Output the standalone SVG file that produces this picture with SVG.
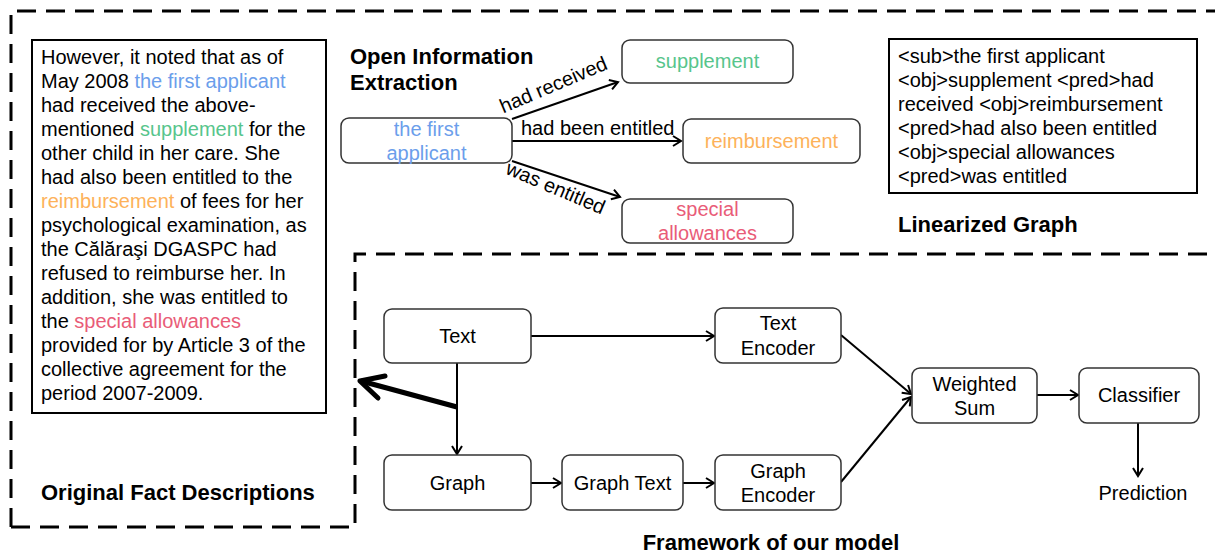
<svg xmlns="http://www.w3.org/2000/svg" width="1215" height="553" viewBox="0 0 1215 553">
<style>
text{font-family:"Liberation Sans",Arial,sans-serif;font-size:20px;fill:#000}
.b{font-weight:bold;font-size:22px}
.c{text-anchor:middle}
.node{fill:#fff;stroke:#333;stroke-width:1.5}
.box{fill:#fff;stroke:#000;stroke-width:2}
.dash{fill:none;stroke:#000;stroke-width:3;stroke-dasharray:19 10}
.conn{fill:none;stroke:#000;stroke-width:2}
.blue{fill:#6b9eeb}.green{fill:#57c58c}.orange{fill:#fdb25a}.pink{fill:#e95c78}
</style>
<defs>
<marker id="ah" markerUnits="userSpaceOnUse" markerWidth="14" markerHeight="14" refX="10" refY="6" orient="auto">
<path d="M2,1 L10,6 L2,11" fill="none" stroke="#000" stroke-width="2"/>
</marker>
</defs>
<rect width="1215" height="553" fill="#fff"/>
<g id="frames">
<path class="dash" d="M11,527 L11,11 L1215,11"/>
<path class="dash" d="M11,527 L355,527 L355,254 L1215,254"/>
</g>
<g id="fact-box">
<rect class="box" x="32" y="40" width="294" height="373"/>
<text x="41" y="64">However, it noted that as of</text>
<text x="41" y="88">May 2008 <tspan class="blue">the first applicant</tspan></text>
<text x="41" y="112">had received the above-</text>
<text x="41" y="136">mentioned <tspan class="green">supplement</tspan> for the</text>
<text x="41" y="160">other child in her care. She</text>
<text x="41" y="184">had also been entitled to the</text>
<text x="41" y="208"><tspan class="orange">reimbursement</tspan> of fees for her</text>
<text x="41" y="232">psychological examination, as</text>
<text x="41" y="256">the Călăraşi DGASPC had</text>
<text x="41" y="280">refused to reimburse her. In</text>
<text x="41" y="304">addition, she was entitled to</text>
<text x="41" y="328">the <tspan class="pink">special allowances</tspan></text>
<text x="41" y="352">provided for by Article 3 of the</text>
<text x="41" y="376">collective agreement for the</text>
<text x="41" y="400">period 2007-2009.</text>
</g>
<g id="titles">
<text class="b" x="350" y="64">Open Information</text>
<text class="b" x="350" y="90">Extraction</text>
<text class="b" x="898" y="232">Linearized Graph</text>
<text class="b" x="41" y="500">Original Fact Descriptions</text>
<text class="b c" x="771" y="550">Framework of our model</text>
</g>
<g id="linearized">
<rect class="box" x="889" y="39" width="308" height="154"/>
<text x="898" y="63">&lt;sub&gt;the first applicant</text>
<text x="898" y="87">&lt;obj&gt;supplement &lt;pred&gt;had</text>
<text x="898" y="111">received &lt;obj&gt;reimbursement</text>
<text x="898" y="135">&lt;pred&gt;had also been entitled</text>
<text x="898" y="159">&lt;obj&gt;special allowances</text>
<text x="898" y="183">&lt;pred&gt;was entitled</text>
</g>
<g id="connectors">
<line class="conn" x1="512" y1="119" x2="618" y2="82" marker-end="url(#ah)"/>
<line class="conn" x1="512" y1="141" x2="681" y2="141" marker-end="url(#ah)"/>
<line class="conn" x1="512" y1="161" x2="620" y2="197" marker-end="url(#ah)"/>
<line class="conn" x1="531" y1="336" x2="714" y2="336" marker-end="url(#ah)"/>
<line class="conn" x1="457" y1="363" x2="457" y2="454" marker-end="url(#ah)"/>
<line class="conn" x1="531" y1="483" x2="561" y2="483" marker-end="url(#ah)"/>
<line class="conn" x1="683" y1="483" x2="714" y2="483" marker-end="url(#ah)"/>
<line class="conn" x1="841" y1="335" x2="911" y2="394" marker-end="url(#ah)"/>
<line class="conn" x1="841" y1="482" x2="911" y2="397" marker-end="url(#ah)"/>
<line class="conn" x1="1037" y1="395" x2="1078" y2="395" marker-end="url(#ah)"/>
<line class="conn" x1="1138" y1="423" x2="1138" y2="476" marker-end="url(#ah)"/>
<path d="M457,407 L361,381" fill="none" stroke="#000" stroke-width="5"/>
<path d="M385,376 L360,381 L378,398" fill="none" stroke="#000" stroke-width="5" stroke-linejoin="round" stroke-linecap="round"/>
<text class="c" transform="translate(556,91) rotate(-23)">had received</text>
<text x="521" y="135">had been entitled</text>
<text class="c" transform="translate(553,194) rotate(23)">was entitled</text>
</g>
<g id="n-applicant">
<rect class="node" x="341" y="118" width="171" height="45" rx="8"/>
<text class="c blue" x="426.5" y="136">the first</text>
<text class="c blue" x="426.5" y="160">applicant</text>
</g>
<g id="n-supplement">
<rect class="node" x="622" y="40" width="171" height="43" rx="8"/>
<text class="c green" x="707.5" y="68">supplement</text>
</g>
<g id="n-reimbursement">
<rect class="node" x="683" y="119" width="177" height="44" rx="8"/>
<text class="c orange" x="771.5" y="148">reimbursement</text>
</g>
<g id="n-special">
<rect class="node" x="622" y="199" width="171" height="44" rx="8"/>
<text class="c pink" x="707.5" y="216">special</text>
<text class="c pink" x="707.5" y="240">allowances</text>
</g>
<g id="n-text">
<rect class="node" x="384" y="309" width="147" height="54" rx="8"/>
<text class="c" x="457.5" y="343">Text</text>
</g>
<g id="n-text-encoder">
<rect class="node" x="715" y="308" width="126" height="55" rx="8"/>
<text class="c" x="778" y="330">Text</text>
<text class="c" x="778" y="355">Encoder</text>
</g>
<g id="n-graph">
<rect class="node" x="384" y="455" width="147" height="55" rx="8"/>
<text class="c" x="457.5" y="490">Graph</text>
</g>
<g id="n-graph-text">
<rect class="node" x="562" y="455" width="121" height="55" rx="8"/>
<text class="c" x="622.5" y="490">Graph Text</text>
</g>
<g id="n-graph-encoder">
<rect class="node" x="715" y="455" width="126" height="55" rx="8"/>
<text class="c" x="778" y="478">Graph</text>
<text class="c" x="778" y="502">Encoder</text>
</g>
<g id="n-weighted-sum">
<rect class="node" x="912" y="368" width="125" height="55" rx="8"/>
<text class="c" x="974.5" y="391">Weighted</text>
<text class="c" x="974.5" y="415">Sum</text>
</g>
<g id="n-classifier">
<rect class="node" x="1079" y="368" width="120" height="55" rx="8"/>
<text class="c" x="1139" y="402">Classifier</text>
</g>
<g id="n-prediction">
<text class="c" x="1143" y="500">Prediction</text>
</g>
</svg>
